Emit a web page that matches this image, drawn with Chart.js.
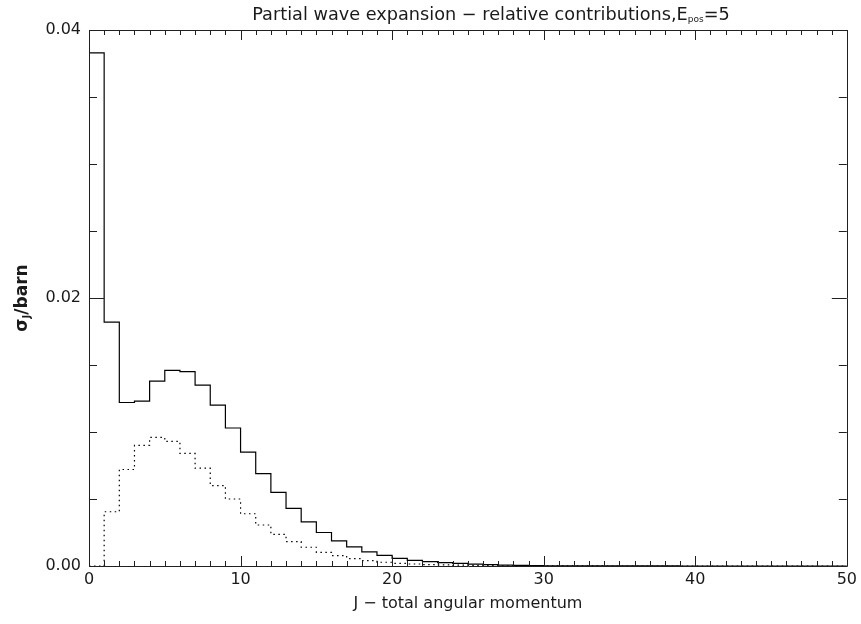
<!DOCTYPE html>
<html>
<head>
<meta charset="utf-8">
<script src="https://cdn.jsdelivr.net/npm/chart.js@4.4.1/dist/chart.umd.min.js"></script>
<style>
    html, body { margin: 0; padding: 0; background: #ffffff; }
    #quadro { width: 861px; height: 624px; }
</style>
</head>
<body>
<div id="quadro"><canvas id="graficoOndas"></canvas></div>
<script>
// J - total angular momentum, start of each bin
const momentos = [];
for (let j = 0; j < 50; j++) momentos.push(j);

// sigma_J in barn, solid histogram
const secaoTotal = [
    0.0383, 0.0182, 0.0122, 0.0123, 0.0138, 0.0146, 0.0145, 0.0135, 0.0120, 0.0103,
    0.0085, 0.0069, 0.0055, 0.0043, 0.0033, 0.0025, 0.00187, 0.00142, 0.00105, 0.0008,
    0.00057, 0.00042, 0.00032, 0.00025, 0.00019, 0.00014, 0.0001, 0.00007, 0.00005, 0.00003,
    0.00002, 0.000015, 0.00001, 0.000008, 0.000006, 0.000004, 0.000003, 0.000002, 0.000002, 0.000001,
    0.000001, 0.000001, 0.0000005, 0, 0, 0, 0, 0, 0, 0
];

// dotted histogram
const secaoParcial = [
    0, 0.00405, 0.0072, 0.0090, 0.0096, 0.0093, 0.0084, 0.0073, 0.0060, 0.0050,
    0.0039, 0.00306, 0.00236, 0.00182, 0.0014, 0.00102, 0.00077, 0.00055, 0.0004, 0.00028,
    0.0002, 0.00015, 0.00011, 0.00008, 0.00006, 0.00004, 0.00003, 0.00002, 0.000015, 0.00001,
    0.000007, 0.000005, 0.000003, 0.000002, 0.000001, 0, 0, 0, 0, 0,
    0, 0, 0, 0, 0, 0, 0, 0, 0, 0
];

const limitesX = [0, 50];
const limitesY = [0, 0.04];

const cores = {
    linha: '#000000',
    texto: '#1a1a1a',
    eixo: '#202020'
};

const fonte = "'DejaVu Sans', sans-serif";

// histogram steps: one point per bin start plus the closing edge
function degraus(valores) {
    const pts = momentos.map((j, i) => ({ x: j, y: valores[i] }));
    pts.push({ x: limitesX[1], y: valores[valores.length - 1] });
    return pts;
}

// frame and inward tick marks on all four sides
const molduraComTicks = {
    id: 'molduraComTicks',
    afterDatasetsDraw(chart) {
        const { ctx, chartArea: a, scales } = chart;
        const sx = scales.x, sy = scales.y;
        ctx.save();
        ctx.strokeStyle = cores.eixo;
        ctx.lineWidth = 1;
        ctx.beginPath();
        ctx.rect(Math.round(a.left) + 0.5, Math.round(a.top) + 0.5,
            Math.round(a.right - a.left), Math.round(a.bottom - a.top));
        for (let v = limitesX[0]; v <= limitesX[1]; v++) {
            const px = Math.round(sx.getPixelForValue(v)) + 0.5;
            const len = v % 10 === 0 ? 10 : 5;
            ctx.moveTo(px, a.bottom);
            ctx.lineTo(px, a.bottom - len);
            ctx.moveTo(px, a.top);
            ctx.lineTo(px, a.top + len);
        }
        for (let k = 0; k <= 8; k++) {
            const py = Math.round(sy.getPixelForValue(k * 0.005)) + 0.5;
            const len = k % 4 === 0 ? 15 : 8;
            ctx.moveTo(a.left, py);
            ctx.lineTo(a.left + len, py);
            ctx.moveTo(a.right, py);
            ctx.lineTo(a.right - len, py);
        }
        ctx.stroke();
        ctx.restore();
    }
};

// title and y axis label, both with subscripts
const textosComIndice = {
    id: 'textosComIndice',
    afterDraw(chart) {
        const { ctx, chartArea: a } = chart;
        ctx.save();
        ctx.fillStyle = cores.texto;
        ctx.textBaseline = 'alphabetic';

        const principal = 'Partial wave expansion \u2212 relative contributions,E';
        const indice = 'pos';
        const fim = '=5';
        const fGrande = '17.7px ' + fonte;
        const fPequena = '9px ' + fonte;
        ctx.font = fGrande;
        const w1 = ctx.measureText(principal).width;
        const w3 = ctx.measureText(fim).width;
        ctx.font = fPequena;
        const w2 = ctx.measureText(indice).width;
        let x = 491 - (w1 + w2 + w3) / 2;
        const base = 20;
        ctx.font = fGrande;
        ctx.fillText(principal, x, base);
        x += w1;
        ctx.font = fPequena;
        ctx.fillText(indice, x, base + 2);
        x += w2;
        ctx.font = fGrande;
        ctx.fillText(fim, x, base);

        // sigma_J / barn, rotated
        ctx.translate(27, (a.top + a.bottom) / 2);
        ctx.rotate(-Math.PI / 2);
        const fY = 'bold 17px ' + fonte;
        const fYi = 'bold 10px ' + fonte;
        ctx.font = fY;
        const s1 = ctx.measureText('\u03c3').width;
        const s3 = ctx.measureText('/barn').width;
        ctx.font = fYi;
        const s2 = ctx.measureText('J').width;
        let y0 = -(s1 + s2 + s3) / 2;
        ctx.font = fY;
        ctx.fillText('\u03c3', y0, 0);
        y0 += s1;
        ctx.font = fYi;
        ctx.fillText('J', y0, 3);
        y0 += s2;
        ctx.font = fY;
        ctx.fillText('/barn', y0, 0);
        ctx.restore();
    }
};

const estiloTicks = {
    color: cores.texto,
    font: { family: fonte, size: 16 }
};

const ctxOndas = document.getElementById('graficoOndas');
new Chart(ctxOndas, {
    type: 'line',
    data: {
        datasets: [{
            label: 'total',
            data: degraus(secaoTotal),
            stepped: 'before',
            borderColor: cores.linha,
            borderWidth: 1.2,
            pointRadius: 0,
            fill: false
        }, {
            label: 'parcial',
            data: degraus(secaoParcial),
            stepped: 'before',
            borderColor: cores.linha,
            borderWidth: 1.2,
            borderDash: [1.5, 3.5],
            pointRadius: 0,
            fill: false
        }]
    },
    options: {
        responsive: true,
        maintainAspectRatio: false,
        animation: false,
        layout: {
            padding: { top: 30, right: 13, left: 0, bottom: 11 }
        },
        plugins: {
            legend: { display: false },
            tooltip: { enabled: false },
            title: { display: false }
        },
        scales: {
            x: {
                type: 'linear',
                min: limitesX[0],
                max: limitesX[1],
                grid: { display: false, drawTicks: false },
                border: { display: false },
                ticks: {
                    ...estiloTicks,
                    stepSize: 10,
                    padding: 4,
                    maxRotation: 0,
                    callback: (v) => String(v)
                },
                title: {
                    display: true,
                    text: 'J \u2212 total angular momentum',
                    color: cores.texto,
                    font: { family: fonte, size: 16 },
                    padding: { top: 2, bottom: 0 }
                },
                afterFit: (s) => { s.height = 47; }
            },
            y: {
                min: limitesY[0],
                max: limitesY[1],
                grid: { display: false, drawTicks: false },
                border: { display: false },
                ticks: {
                    ...estiloTicks,
                    stepSize: 0.02,
                    padding: 8,
                    callback: (v) => v.toFixed(2)
                },
                afterFit: (s) => { s.width = 89; }
            }
        }
    },
    plugins: [molduraComTicks, textosComIndice]
});
</script>
</body>
</html>
